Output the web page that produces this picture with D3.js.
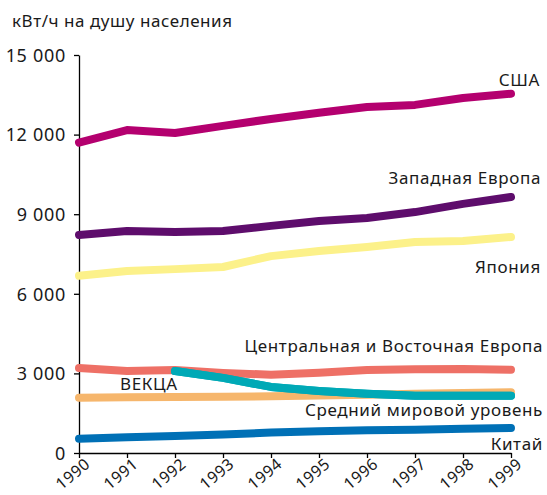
<!DOCTYPE html>
<html>
<head>
<meta charset="utf-8">
<script src="https://cdn.jsdelivr.net/npm/d3@7"></script>
<style>
  body { margin: 0; background: #fff; }
  text { font-family: "Noto Sans", "Open Sans", sans-serif; fill: #1a1a1a; }
</style>
</head>
<body>
<svg width="547" height="495"></svg>
<script>
var years = [1990, 1991, 1992, 1993, 1994, 1995, 1996, 1997, 1998, 1999];
var yTicks = [0, 3000, 6000, 9000, 12000, 15000];

var usa = [11700, 12170, 12060, 12330, 12590, 12820, 13040, 13120, 13380, 13540];
var westEurope = [8220, 8370, 8330, 8370, 8560, 8740, 8860, 9080, 9390, 9650];
var japan = [6680, 6860, 6930, 7010, 7420, 7610, 7760, 7950, 7990, 8140];
var ceEurope = [3200, 3090, 3130, 3020, 2950, 3020, 3130, 3160, 3170, 3140];
var worldAvg = [2080, 2100, 2110, 2120, 2140, 2170, 2200, 2230, 2260, 2290];
var vekca = [null, null, 3090, 2830, 2490, 2340, 2230, 2160, 2160, 2160];
var china = [540, 590, 640, 700, 770, 820, 860, 880, 910, 940];

// drawing order: last one on top
var series = [
  {name: "Средний мировой уровень", values: worldAvg, color: "#f6b66c", label: [543, 416, "end"]},
  {name: "Центральная и Восточная Европа", values: ceEurope, color: "#ee7066", label: [543, 352, "end"]},
  {name: "ВЕКЦА", values: vekca, color: "#00a9b6", label: [120, 390, "start"]},
  {name: "Китай", values: china, color: "#0070b6", label: [543, 450, "end"]},
  {name: "Япония", values: japan, color: "#fcf18a", label: [541, 273, "end"]},
  {name: "Западная Европа", values: westEurope, color: "#5e0d6c", label: [541, 184, "end"]},
  {name: "США", values: usa, color: "#b4006f", label: [540, 86, "end"]}
];

var svg = d3.select("svg"),
    margin = {top: 55, right: 36, bottom: 42, left: 79},
    width = +svg.attr("width") - margin.left - margin.right,
    height = +svg.attr("height") - margin.top - margin.bottom,
    g = svg.append("g").attr("transform", "translate(" + margin.left + "," + margin.top + ")");

var x = d3.scaleLinear().domain([1990, 1999]).range([0, width]);
var y = d3.scaleLinear().domain([0, 15000]).range([height, 0]);

var fmt = function (d) { return d3.format(",")(d).replace(",", " "); };

var yAxis = g.append("g")
    .call(d3.axisLeft(y).tickValues(yTicks).tickFormat(fmt).tickSize(5).tickSizeOuter(0));
yAxis.selectAll("text")
    .attr("font-size", 18)
    .attr("letter-spacing", 0.7)
    .attr("x", -13)
    .attr("dy", "0.35em");

var xAxis = g.append("g")
    .attr("transform", "translate(0," + height + ")")
    .call(d3.axisBottom(x).tickValues(years).tickFormat(d3.format("d")).tickSize(5).tickSizeOuter(0));
xAxis.selectAll("text")
    .attr("font-size", 16)
    .attr("letter-spacing", 0.5)
    .attr("text-anchor", "end")
    .attr("dy", "0.55em")
    .attr("y", 0)
    .attr("transform", "translate(6,6) rotate(-40)");

svg.selectAll(".domain, .tick line").attr("stroke", "#000").attr("stroke-width", 1.3);

var line = d3.line()
    .defined(function (d) { return d != null; })
    .x(function (d, i) { return x(years[i]); })
    .y(function (d) { return y(d); });

g.selectAll("path.series")
  .data(series)
  .enter().append("path")
    .attr("class", "series")
    .attr("fill", "none")
    .attr("stroke", function (d) { return d.color; })
    .attr("stroke-width", 8)
    .attr("stroke-linecap", "round")
    .attr("stroke-linejoin", "round")
    .attr("d", function (d) { return line(d.values); });

// teal line drawn again on top of the others
g.append("path")
    .attr("fill", "none")
    .attr("stroke", "#00a9b6")
    .attr("stroke-width", 8)
    .attr("stroke-linecap", "round")
    .attr("stroke-linejoin", "round")
    .attr("d", line(vekca));

svg.selectAll("text.lbl")
  .data(series)
  .enter().append("text")
    .attr("class", "lbl")
    .attr("x", function (d) { return d.label[0]; })
    .attr("y", function (d) { return d.label[1]; })
    .attr("text-anchor", function (d) { return d.label[2]; })
    .attr("font-size", 17)
    .attr("letter-spacing", 0.65)
    .text(function (d) { return d.name; });

svg.append("text")
    .attr("x", 12)
    .attr("y", 27)
    .attr("font-size", 17)
    .attr("letter-spacing", 0.55)
    .text("кВт/ч на душу населения");
</script>
</body>
</html>
